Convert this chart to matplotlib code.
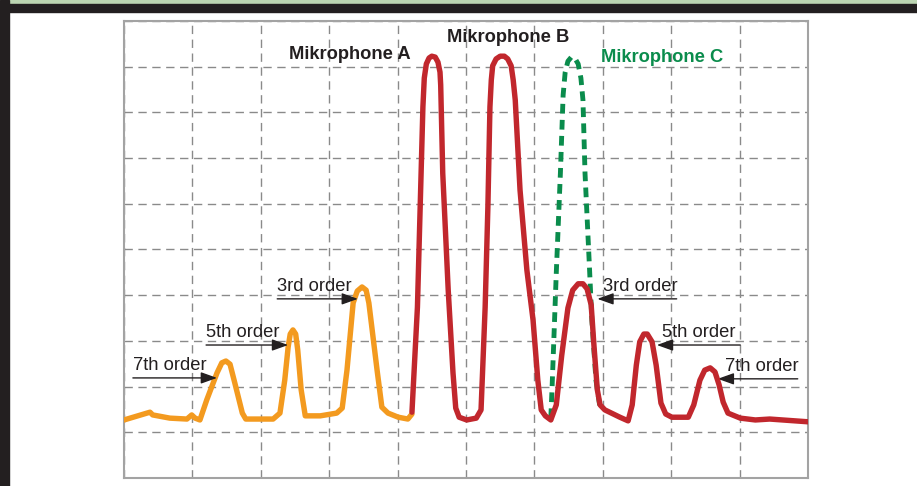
import matplotlib
matplotlib.use("Agg")

import matplotlib.pyplot as plt
from matplotlib.patches import Rectangle

plt.rcParams["font.family"] = ["Liberation Sans", "DejaVu Sans"]

# harmonic curve of microphone A (orange), in grid units (10 x 10 divisions)
orange_x = [0.00, 0.38, 0.42, 0.67, 0.92, 0.99, 1.04, 1.11, 1.21, 1.36, 1.43, 1.49,
            1.55, 1.62, 1.73, 1.78, 2.18, 2.28, 2.35, 2.40, 2.43, 2.47, 2.51, 2.54,
            2.59, 2.65, 2.87, 3.11, 3.19, 3.26, 3.35, 3.41, 3.48, 3.54, 3.58, 3.70,
            3.77, 3.86, 4.01, 4.15, 4.21]
orange_y = [1.27, 1.44, 1.38, 1.31, 1.29, 1.38, 1.31, 1.27, 1.71, 2.30, 2.52, 2.56,
            2.49, 2.08, 1.42, 1.29, 1.29, 1.42, 2.14, 2.87, 3.15, 3.24, 3.15, 2.80,
            1.93, 1.36, 1.36, 1.42, 1.53, 2.36, 3.83, 4.09, 4.18, 4.11, 3.83, 2.36,
            1.55, 1.42, 1.33, 1.29, 1.40]

# microphones A and B plus harmonics (red)
red_x = [4.21, 4.29, 4.33, 4.37, 4.39, 4.42, 4.46, 4.50, 4.55, 4.59, 4.62, 4.63,
         4.66, 4.74, 4.81, 4.85, 4.90, 5.01, 5.15, 5.22, 5.28, 5.32, 5.35, 5.37,
         5.39, 5.44, 5.50, 5.56, 5.61, 5.66, 5.69, 5.72, 5.79, 5.89, 5.98, 6.05,
         6.10, 6.16, 6.24, 6.32, 6.40, 6.49, 6.56, 6.64, 6.71, 6.77, 6.83, 6.87,
         6.92, 6.96, 7.03, 7.25, 7.37, 7.43, 7.49, 7.54, 7.60, 7.65, 7.72, 7.78,
         7.85, 7.92, 8.01, 8.25, 8.33, 8.42, 8.49, 8.57, 8.64, 8.70, 8.76, 8.83,
         9.01, 9.23, 9.44, 10.00]
red_y = [1.44, 3.74, 5.93, 8.12, 8.75, 9.06, 9.19, 9.23, 9.21, 9.10, 8.88, 8.60,
         6.67, 4.11, 2.30, 1.53, 1.33, 1.27, 1.31, 1.49, 3.74, 5.93, 8.12, 8.71,
         9.02, 9.17, 9.23, 9.23, 9.17, 9.02, 8.71, 8.27, 6.30, 4.55, 3.46, 2.14,
         1.49, 1.36, 1.27, 1.60, 2.69, 3.72, 4.11, 4.25, 4.25, 4.14, 3.79, 2.91,
         1.93, 1.60, 1.49, 1.33, 1.25, 1.60, 2.47, 2.98, 3.15, 3.15, 2.98, 2.47,
         1.64, 1.40, 1.33, 1.33, 1.60, 2.14, 2.36, 2.41, 2.32, 2.04, 1.66, 1.42,
         1.31, 1.27, 1.29, 1.23]

# microphone C (green, dashed)
green_x = [6.24, 6.26, 6.32, 6.38, 6.42, 6.45, 6.49, 6.54, 6.59, 6.64, 6.68, 6.71,
           6.74, 6.80, 6.84, 6.90, 6.96]
green_y = [1.31, 2.04, 4.49, 6.67, 8.38, 8.88, 9.12, 9.21, 9.19, 9.06, 8.75, 8.27,
           6.67, 4.77, 3.46, 2.14, 1.53]

mic_labels = ["Mikrophone A", "Mikrophone B", "Mikrophone C"]
order_labels = ["3rd order", "5th order", "7th order"]

ORANGE = "#f39a1f"
RED = "#c1272d"
GREEN = "#0a8c4c"
INK = "#231f20"

fig = plt.figure(figsize=(9.17, 4.86), dpi=100)
fig.patches.append(Rectangle((0, 1 - 4 / 486), 1, 4 / 486, transform=fig.transFigure,
                             color="#bcd5b2", zorder=0))
fig.patches.append(Rectangle((0, 1 - 12 / 486), 1, 8 / 486, transform=fig.transFigure,
                             color=INK, zorder=0))
fig.patches.append(Rectangle((0, 0), 9 / 917, 1, transform=fig.transFigure,
                             color=INK, zorder=0))

ax = fig.add_axes([124 / 917, 8 / 486, 684 / 917, 457 / 486])
ax.set_xlim(0, 10)
ax.set_ylim(0, 10)
ax.set_xticks(range(11))
ax.set_yticks(range(11))
ax.tick_params(length=0, labelleft=False, labelbottom=False)
ax.grid(True, color="#8a8a8a", linestyle=(0, (6, 4)), linewidth=1.0)
for sp in ax.spines.values():
    sp.set_color("#a3a3a3")
    sp.set_linewidth(1.5)

ax.plot(orange_x, orange_y, color=ORANGE, lw=3.9, solid_joinstyle="round",
        solid_capstyle="round", zorder=3)
ax.plot(red_x, red_y, color=RED, lw=3.9, solid_joinstyle="round",
        solid_capstyle="round", zorder=4)
ax.plot(green_x, green_y, color=GREEN, lw=3.5, linestyle=(0, (2.0, 1.3)), zorder=3)

ax.text(3.30, 9.26, mic_labels[0], ha="center", va="center", fontsize=13.2,
        fontweight="bold", color=INK)
ax.text(5.61, 9.63, mic_labels[1], ha="center", va="center", fontsize=13.2,
        fontweight="bold", color=INK)
ax.text(7.87, 9.21, mic_labels[2], ha="center", va="center", fontsize=13.2,
        fontweight="bold", color=GREEN)

arrow = dict(arrowstyle="-|>,head_length=0.7,head_width=0.25", color=INK, lw=1.0,
             shrinkA=0, shrinkB=0, mutation_scale=14)

# left side: arrows pointing right
ax.annotate("", xy=(3.42, 3.92), xytext=(2.24, 3.92), arrowprops=arrow)
ax.annotate("", xy=(2.40, 2.91), xytext=(1.20, 2.91), arrowprops=arrow)
ax.annotate("", xy=(1.36, 2.19), xytext=(0.13, 2.19), arrowprops=arrow)
ax.text(2.24, 4.18, order_labels[0], ha="left", va="center", fontsize=13.2, color=INK)
ax.text(1.20, 3.19, order_labels[1], ha="left", va="center", fontsize=13.2, color=INK)
ax.text(0.13, 2.47, order_labels[2], ha="left", va="center", fontsize=13.2, color=INK)

# right side: arrows pointing left
ax.annotate("", xy=(6.92, 3.92), xytext=(8.08, 3.92), arrowprops=arrow)
ax.annotate("", xy=(7.79, 2.91), xytext=(9.01, 2.91), arrowprops=arrow)
ax.annotate("", xy=(8.68, 2.17), xytext=(9.85, 2.17), arrowprops=arrow)
ax.text(7.00, 4.18, order_labels[0], ha="left", va="center", fontsize=13.2, color=INK)
ax.text(7.87, 3.19, order_labels[1], ha="left", va="center", fontsize=13.2, color=INK)
ax.text(8.79, 2.45, order_labels[2], ha="left", va="center", fontsize=13.2, color=INK)

fig.savefig("out.png", dpi=100)
